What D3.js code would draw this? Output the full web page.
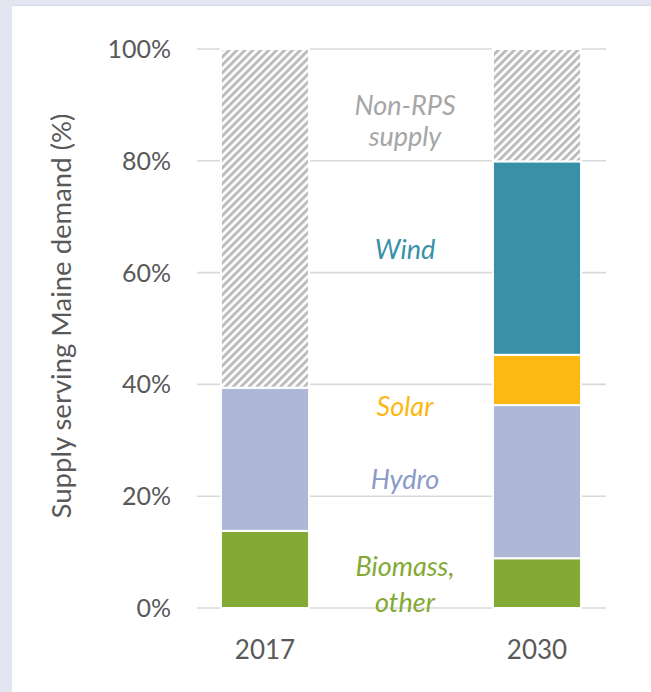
<!DOCTYPE html>
<html lang="en">
<head>
	<script src="https://cdnjs.cloudflare.com/ajax/libs/d3/7.8.5/d3.min.js"></script>
	<style>
		body{ margin:0; background:#e3e5f0; }
		svg{ display:block; }
		text{ font-family: Lato, "Open Sans", sans-serif; }
	</style>
</head>
<body>
<svg width="651" height="692"></svg>

<script>
	// data (shares of supply, %)
	const years = ["2017", "2030"];
	const sources = ["Biomass", "Hydro", "Solar", "Wind", "NonRPS"];
	const biomass = [13.8, 8.9];
	const hydro = [25.6, 27.4];
	const solar = [0, 9.0];
	const wind = [0, 34.6];
	const nonRps = [60.6, 20.1];
	const yTicks = [0, 20, 40, 60, 80, 100];

	const colors = {Biomass: "#84a935", Hydro: "#aeb8d6", Solar: "#fdb813", Wind: "#3891a7", NonRPS: "url(#hatch)"};

	const rows = years.map((y, i) => ({
		year: y, Biomass: biomass[i], Hydro: hydro[i], Solar: solar[i], Wind: wind[i], NonRPS: nonRps[i]
	}));

	const svg = d3.select("svg");

	// white panel on lavender
	svg.append("rect").attr("x", 0).attr("y", 0).attr("width", 651).attr("height", 692).attr("fill", "#e3e5f0");
	svg.append("rect").attr("x", 12).attr("y", 5).attr("width", 639).attr("height", 1).attr("fill", "#d6d8e4");
	svg.append("rect").attr("x", 12).attr("y", 6).attr("width", 639).attr("height", 686).attr("fill", "#fff");

	const defs = svg.append("defs");
	const pat = defs.append("pattern")
			.attr("id", "hatch")
			.attr("patternUnits", "userSpaceOnUse")
			.attr("width", 5.6).attr("height", 5.6)
			.attr("patternTransform", "rotate(45)");
	pat.append("rect").attr("width", 5.6).attr("height", 5.6).attr("fill", "#fff");
	pat.append("rect").attr("width", 3).attr("height", 5.6).attr("fill", "#bcbcbc");

	const x = d3.scaleBand()
			.domain(years)
			.range([197, 605])
			.paddingInner(0.676)
			.paddingOuter(0.088);

	const y = d3.scaleLinear()
			.domain([0, 100])
			.range([608, 49]);

	// gridlines
	svg.append("g")
			.selectAll("line")
			.data(yTicks)
			.join("line")
			.attr("x1", 197).attr("x2", 606)
			.attr("y1", d => y(d)).attr("y2", d => y(d))
			.attr("stroke", "#d9d9d9")
			.attr("stroke-width", 1.6);

	// y tick labels
	svg.append("g")
			.selectAll("text")
			.data(yTicks)
			.join("text")
			.attr("x", 171)
			.attr("y", d => y(d))
			.attr("dy", "0.36em")
			.attr("text-anchor", "end")
			.attr("font-size", 25)
			.attr("fill", "#595959")
			.text(d => d + "%");

	// bars
	const series = d3.stack().keys(sources)(rows);
	svg.append("g")
			.selectAll("g")
			.data(series)
			.join("g")
			.attr("fill", d => colors[d.key])
			.selectAll("rect")
			.data(d => d.filter(s => s[1] - s[0] > 0))
			.join("rect")
			.attr("x", d => x(d.data.year))
			.attr("width", x.bandwidth())
			.attr("y", d => y(d[1]))
			.attr("height", d => y(d[0]) - y(d[1]))
			.attr("stroke", "#fff")
			.attr("stroke-width", 2);

	// x labels
	svg.append("g")
			.selectAll("text")
			.data(years)
			.join("text")
			.attr("x", d => x(d) + x.bandwidth() / 2)
			.attr("y", 659)
			.attr("text-anchor", "middle")
			.attr("font-size", 26)
			.attr("fill", "#595959")
			.text(d => d);

	// y axis title
	svg.append("text")
			.attr("transform", "translate(71,316) rotate(-90)")
			.attr("text-anchor", "middle")
			.attr("font-size", 27.5)
			.attr("fill", "#595959")
			.text("Supply serving Maine demand (%)");

	// series labels between the bars
	const labels = [
		{lines: ["Non-RPS", "supply"], color: "#a6a6a6", y: 115, gap: 31},
		{lines: ["Wind"], color: "#3891a7", y: 259, gap: 0},
		{lines: ["Solar"], color: "#fdb813", y: 416, gap: 0},
		{lines: ["Hydro"], color: "#8b9bc9", y: 489, gap: 0},
		{lines: ["Biomass,", "other"], color: "#84a935", y: 576, gap: 36}
	];
	const lx = 405;
	labels.forEach(l => {
		const t = svg.append("text")
				.attr("text-anchor", "middle")
				.attr("font-size", 27)
				.attr("font-style", "italic")
				.attr("fill", l.color);
		l.lines.forEach((s, i) => {
			t.append("tspan").attr("x", lx).attr("y", l.y + i * l.gap).text(s);
		});
	});
</script>
</body>
</html>
